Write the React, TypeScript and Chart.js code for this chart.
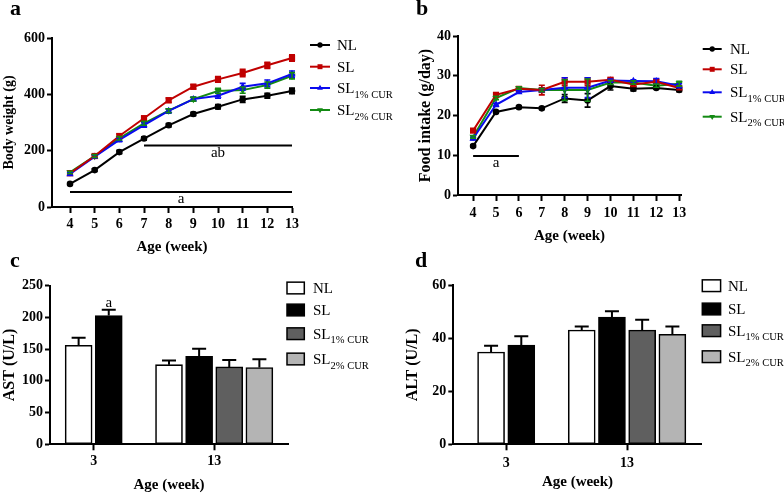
import React, { useEffect, useRef } from 'react';
import { Chart, registerables } from 'chart.js';
Chart.register(...registerables);

const FONT = "'Liberation Serif', 'Times New Roman', serif";

// ---------- shared series info ----------
const seriesNames = ['NL', 'SL', 'SL', 'SL'];
const seriesSubs = ['', '', '1% CUR', '2% CUR'];
const lineColors = ['#000000', '#c00000', '#0a0aee', '#138a13'];
const pointStyles = ['circle', 'rect', 'triangle', 'triangle'];
const pointRotations = [0, 0, 0, 180];
const pointRadii = [3.3, 4.4, 4.2, 4.2];
const barFills = ['#ffffff', '#000000', '#5f5f5f', '#b4b4b4'];

// ---------- panel a: body weight ----------
const weeks = [4, 5, 6, 7, 8, 9, 10, 11, 12, 13];
const bwNL = [82, 131, 195, 243, 290, 330, 356, 382, 395, 412];
const bwSL = [120, 181, 252, 315, 379, 427, 453, 476, 503, 529];
const bwSL1 = [117, 179, 238, 291, 341, 383, 395, 427, 439, 472];
const bwSL2 = [123, 181, 244, 297, 342, 383, 412, 415, 433, 466];
const bwNLErr = [4, 5, 6, 6, 6, 6, 8, 11, 9, 10];
const bwSLErr = [4, 5, 7, 8, 8, 8, 10, 13, 11, 11];
const bwSL1Err = [4, 5, 6, 8, 8, 7, 9, 12, 12, 11];
const bwSL2Err = [4, 5, 6, 7, 7, 7, 9, 11, 11, 11];
const bwTicks = [0, 200, 400, 600];
// significance lines: [from week, to week, y value, label]
const bwSigFrom = [7, 4];
const bwSigTo = [13, 13];
const bwSigY = [218, 53];
const bwSigLabel = ['ab', 'a'];

// ---------- panel b: food intake ----------
const fiNL = [12.3, 20.9, 22.1, 21.8, 24.3, 23.8, 27.4, 26.7, 26.9, 26.4];
const fiSL = [16.2, 25.2, 26.7, 26.4, 28.5, 28.5, 29.0, 27.8, 28.5, 26.9];
const fiSL1 = [14.2, 22.7, 25.9, 26.4, 27.0, 27.0, 28.8, 28.7, 28.6, 27.5];
const fiSL2 = [14.6, 24.4, 26.9, 26.4, 26.4, 26.4, 28.3, 28.3, 27.5, 28.0];
const fiNLErr = [0.3, 0.3, 0.3, 0.3, 1.0, 1.7, 1.0, 0.5, 0.3, 0.4];
const fiSLErr = [0.3, 0.5, 0.4, 1.2, 1.0, 1.0, 0.4, 0.5, 0.6, 0.4];
const fiSL1Err = [0.3, 0.4, 0.3, 0.4, 2.5, 2.5, 0.4, 0.3, 0.7, 0.5];
const fiSL2Err = [0.3, 0.4, 0.3, 0.4, 2.6, 2.8, 0.5, 0.4, 0.4, 0.6];
const fiTicks = [0, 10, 20, 30, 40];
const fiSigFrom = [4];
const fiSigTo = [6];
const fiSigY = [9.8];
const fiSigLabel = ['a'];

// ---------- panels c, d: AST / ALT ----------
const ageCats = ['3', '13'];
const astNL = [156, 125.5];
const astSL = [203, 138.7];
const astSL1 = [null, 122];
const astSL2 = [null, 121];
const astNLErr = [12, 6.5];
const astSLErr = [9, 12];
const astSL1Err = [null, 11];
const astSL2Err = [null, 13];
const astTicks = [0, 50, 100, 150, 200, 250];
const altNL = [34.8, 43.1];
const altSL = [37.4, 48.0];
const altSL1 = [null, 43.1];
const altSL2 = [null, 41.5];
const altNLErr = [2.4, 1.4];
const altSLErr = [3.4, 2.2];
const altSL1Err = [null, 3.9];
const altSL2Err = [null, 3.0];
const altTicks = [0, 20, 40, 60];
// "a" mark above SL bar at age 3 in AST
const astMarkCat = [0];
const astMarkSeries = [1];
const astMarkLabel = ['a'];

const GROUP = 4; // slots between category centres

// ---------- helpers ----------
function drawMarker(ctx: CanvasRenderingContext2D, style: string, x: number, y: number, r: number, rot: number) {
  ctx.beginPath();
  if (style === 'circle') {
    ctx.arc(x, y, r, 0, Math.PI * 2);
  } else if (style === 'rect') {
    const s = r * Math.SQRT1_2;
    ctx.rect(x - s, y - s, 2 * s, 2 * s);
  } else {
    let a = (rot * Math.PI) / 180;
    ctx.moveTo(x + Math.sin(a) * r, y - Math.cos(a) * r);
    a += (2 * Math.PI) / 3;
    ctx.lineTo(x + Math.sin(a) * r, y - Math.cos(a) * r);
    a += (2 * Math.PI) / 3;
    ctx.lineTo(x + Math.sin(a) * r, y - Math.cos(a) * r);
    ctx.closePath();
  }
  ctx.fill();
}

function drawLabelText(ctx: CanvasRenderingContext2D, name: string, sub: string, x: number, y: number) {
  ctx.fillStyle = '#000';
  ctx.textAlign = 'left';
  ctx.textBaseline = 'alphabetic';
  ctx.font = `15px ${FONT}`;
  ctx.fillText(name, x, y + 5);
  if (sub) {
    const w = ctx.measureText(name).width;
    ctx.font = `10.5px ${FONT}`;
    ctx.fillText(sub, x + w, y + 9.5);
  }
}

function panelLetterPlugin(letter: string, x: number, y: number) {
  return {
    id: 'panelLetter',
    afterDraw(chart: any) {
      const ctx = chart.ctx;
      ctx.save();
      ctx.fillStyle = '#000';
      ctx.font = `bold 22px ${FONT}`;
      ctx.textAlign = 'left';
      ctx.textBaseline = 'alphabetic';
      ctx.fillText(letter, x, y);
      ctx.restore();
    },
  };
}

function lineLegendPlugin(x0: number, x1: number, tx: number, ys: number[]) {
  return {
    id: 'lineLegend',
    afterDraw(chart: any) {
      const ctx = chart.ctx;
      ctx.save();
      ys.forEach((y, i) => {
        ctx.strokeStyle = lineColors[i];
        ctx.fillStyle = lineColors[i];
        ctx.lineWidth = 2;
        ctx.beginPath();
        ctx.moveTo(x0, y);
        ctx.lineTo(x1, y);
        ctx.stroke();
        drawMarker(ctx, pointStyles[i], (x0 + x1) / 2, y, pointRadii[i] * 0.8, pointRotations[i]);
        drawLabelText(ctx, seriesNames[i], seriesSubs[i], tx, y);
      });
      ctx.restore();
    },
  };
}

function boxLegendPlugin(x0: number, w: number, h: number, tx: number, ys: number[]) {
  return {
    id: 'boxLegend',
    afterDraw(chart: any) {
      const ctx = chart.ctx;
      ctx.save();
      ys.forEach((y, i) => {
        ctx.fillStyle = barFills[i];
        ctx.fillRect(x0, y - h / 2, w, h);
        ctx.strokeStyle = '#000';
        ctx.lineWidth = 1.5;
        ctx.strokeRect(x0, y - h / 2, w, h);
        drawLabelText(ctx, seriesNames[i], seriesSubs[i], tx, y);
      });
      ctx.restore();
    },
  };
}

function lineErrPlugin(errs: number[][]) {
  return {
    id: 'lineErr',
    afterDatasetsDraw(chart: any) {
      const ctx = chart.ctx;
      const ys = chart.scales.y;
      ctx.save();
      chart.data.datasets.forEach((ds: any, i: number) => {
        const meta = chart.getDatasetMeta(i);
        ctx.strokeStyle = lineColors[i];
        ctx.lineWidth = 1.6;
        meta.data.forEach((el: any, j: number) => {
          const v = ds.data[j].y;
          const e = errs[i][j];
          const top = ys.getPixelForValue(v + e);
          const bot = ys.getPixelForValue(v - e);
          ctx.beginPath();
          ctx.moveTo(el.x, top);
          ctx.lineTo(el.x, bot);
          ctx.moveTo(el.x - 3, top);
          ctx.lineTo(el.x + 3, top);
          ctx.moveTo(el.x - 3, bot);
          ctx.lineTo(el.x + 3, bot);
          ctx.stroke();
        });
      });
      ctx.restore();
    },
  };
}

function sigLinePlugin(from: number[], to: number[], yv: number[], labels: string[]) {
  return {
    id: 'sigLine',
    afterDraw(chart: any) {
      const ctx = chart.ctx;
      const xs = chart.scales.x;
      const ys = chart.scales.y;
      ctx.save();
      ctx.strokeStyle = '#000';
      ctx.fillStyle = '#000';
      ctx.lineWidth = 2;
      ctx.font = `15px ${FONT}`;
      ctx.textAlign = 'center';
      ctx.textBaseline = 'alphabetic';
      from.forEach((f, i) => {
        const x0 = xs.getPixelForValue(f);
        const x1 = xs.getPixelForValue(to[i]);
        const y = ys.getPixelForValue(yv[i]);
        ctx.beginPath();
        ctx.moveTo(x0, y);
        ctx.lineTo(x1, y);
        ctx.stroke();
        ctx.fillText(labels[i], (x0 + x1) / 2, y + 11);
      });
      ctx.restore();
    },
  };
}

function barErrPlugin(errs: (number | null)[][], markCat: number[], markSeries: number[], markLabel: string[]) {
  return {
    id: 'barErr',
    afterDatasetsDraw(chart: any) {
      const ctx = chart.ctx;
      const ys = chart.scales.y;
      ctx.save();
      ctx.strokeStyle = '#000';
      ctx.lineWidth = 2;
      chart.data.datasets.forEach((ds: any, i: number) => {
        const meta = chart.getDatasetMeta(i);
        meta.data.forEach((el: any, j: number) => {
          const pt = ds.data[j];
          const e = errs[i][pt.cat];
          if (e == null) return;
          const top = ys.getPixelForValue(pt.y + e);
          const base = ys.getPixelForValue(pt.y);
          ctx.beginPath();
          ctx.moveTo(el.x, base);
          ctx.lineTo(el.x, top);
          ctx.moveTo(el.x - 7, top);
          ctx.lineTo(el.x + 7, top);
          ctx.stroke();
          markCat.forEach((mc, k) => {
            if (mc === pt.cat && markSeries[k] === i) {
              ctx.fillStyle = '#000';
              ctx.font = `15px ${FONT}`;
              ctx.textAlign = 'center';
              ctx.textBaseline = 'alphabetic';
              ctx.fillText(markLabel[k], el.x, top - 3);
            }
          });
        });
      });
      ctx.restore();
    },
  };
}

const tickFont = { family: FONT, size: 14, weight: 'bold' as const };

function axisCommon() {
  return {
    grid: { drawOnChartArea: false, color: '#000', tickColor: '#000', tickWidth: 2, offset: false },
    border: { display: true, color: '#000', width: 2 },
  };
}

function lineConfig(
  series: number[][],
  cw: number,
  ch: number,
  plot: { l: number; t: number; r: number; b: number },
  xMin: number,
  xMax: number,
  yTicks: number[],
  xTitle: { size: number; pad: number },
  yTitle: { text: string; size: number; pad: number },
  tickPadX: number,
  plugins: any[]
) {
  return {
    type: 'line',
    data: {
      datasets: series.map((vals, i) => ({
        label: seriesNames[i] + seriesSubs[i],
        data: weeks.map((w, j) => ({ x: w, y: vals[j] })),
        borderColor: lineColors[i],
        backgroundColor: lineColors[i],
        borderWidth: 2,
        pointStyle: pointStyles[i],
        pointRotation: pointRotations[i],
        pointRadius: pointRadii[i],
        pointBorderWidth: 0,
        tension: 0,
        clip: false,
      })),
    },
    options: {
      responsive: false,
      animation: false,
      events: [],
      layout: { padding: { left: 0, top: plot.t, right: cw - plot.r, bottom: 0 } },
      plugins: { legend: { display: false }, tooltip: { enabled: false } },
      scales: {
        x: {
          type: 'linear',
          min: xMin,
          max: xMax,
          offset: false,
          afterBuildTicks: (s: any) => {
            s.ticks = weeks.map((v) => ({ value: v }));
          },
          afterFit: (s: any) => {
            s.height = ch - plot.b;
          },
          ticks: { font: tickFont, color: '#000', padding: tickPadX, autoSkip: false, maxRotation: 0 },
          ...axisCommon(),
          grid: { ...axisCommon().grid, tickLength: 6 },
          title: {
            display: true,
            text: 'Age (week)',
            color: '#000',
            font: { family: FONT, size: xTitle.size, weight: 'bold' },
            padding: { top: 0, bottom: xTitle.pad },
          },
        },
        y: {
          min: yTicks[0],
          max: yTicks[yTicks.length - 1],
          afterBuildTicks: (s: any) => {
            s.ticks = yTicks.map((v) => ({ value: v }));
          },
          afterFit: (s: any) => {
            s.width = plot.l;
          },
          ticks: { font: tickFont, color: '#000', padding: 2 },
          ...axisCommon(),
          grid: { ...axisCommon().grid, tickLength: 5 },
          title: {
            display: true,
            text: yTitle.text,
            color: '#000',
            font: { family: FONT, size: yTitle.size, weight: 'bold' },
            padding: { top: yTitle.pad, bottom: 0 },
          },
        },
      },
    },
    plugins,
  };
}

function barConfig(
  series: (number | null)[][],
  cw: number,
  ch: number,
  plot: { l: number; t: number; r: number; b: number },
  xMin: number,
  xMax: number,
  yTicks: number[],
  xTitle: { size: number; pad: number },
  yTitle: { text: string; size: number; pad: number },
  tickPadX: number,
  plugins: any[]
) {
  // place each present bar in its category group, centred on the category
  const pts: any[][] = series.map(() => []);
  ageCats.forEach((_, ci) => {
    const present = series.map((s, si) => (s[ci] == null ? -1 : si)).filter((si) => si >= 0);
    present.forEach((si, k) => {
      pts[si].push({ x: ci * GROUP + (k - (present.length - 1) / 2), y: series[si][ci], cat: ci });
    });
  });
  return {
    type: 'bar',
    data: {
      datasets: series.map((_, i) => ({
        label: seriesNames[i] + seriesSubs[i],
        data: pts[i],
        backgroundColor: barFills[i],
        borderColor: '#000',
        borderWidth: 1.6,
        borderSkipped: false,
        barThickness: 27,
        grouped: false,
      })),
    },
    options: {
      responsive: false,
      animation: false,
      events: [],
      layout: { padding: { left: 0, top: plot.t, right: cw - plot.r, bottom: 0 } },
      plugins: { legend: { display: false }, tooltip: { enabled: false } },
      scales: {
        x: {
          type: 'linear',
          min: xMin,
          max: xMax,
          offset: false,
          afterBuildTicks: (s: any) => {
            s.ticks = ageCats.map((_, i) => ({ value: i * GROUP }));
          },
          afterFit: (s: any) => {
            s.height = ch - plot.b;
          },
          ticks: {
            font: tickFont,
            color: '#000',
            padding: tickPadX,
            autoSkip: false,
            maxRotation: 0,
            callback: (v: number) => ageCats[Math.round(v / GROUP)],
          },
          ...axisCommon(),
          grid: { ...axisCommon().grid, tickLength: 6 },
          title: {
            display: true,
            text: 'Age (week)',
            color: '#000',
            font: { family: FONT, size: xTitle.size, weight: 'bold' },
            padding: { top: 0, bottom: xTitle.pad },
          },
        },
        y: {
          min: yTicks[0],
          max: yTicks[yTicks.length - 1],
          afterBuildTicks: (s: any) => {
            s.ticks = yTicks.map((v) => ({ value: v }));
          },
          afterFit: (s: any) => {
            s.width = plot.l;
          },
          ticks: { font: tickFont, color: '#000', padding: 2 },
          ...axisCommon(),
          grid: { ...axisCommon().grid, tickLength: 5 },
          title: {
            display: true,
            text: yTitle.text,
            color: '#000',
            font: { family: FONT, size: yTitle.size, weight: 'bold' },
            padding: { top: yTitle.pad, bottom: 0 },
          },
        },
      },
    },
    plugins,
  };
}

const W = 400;
const H = 262;
const HB = 250;

export default function App() {
  const aRef = useRef<HTMLCanvasElement>(null);
  const bRef = useRef<HTMLCanvasElement>(null);
  const cRef = useRef<HTMLCanvasElement>(null);
  const dRef = useRef<HTMLCanvasElement>(null);

  useEffect(() => {
    const charts: Chart[] = [];
    charts.push(
      new Chart(
        aRef.current!,
        lineConfig(
          [bwNL, bwSL, bwSL1, bwSL2],
          W, H,
          { l: 52, t: 38, r: 292, b: 207 },
          3.27, 13,
          bwTicks,
          { size: 15, pad: 6 },
          { text: 'Body weight (g)', size: 14, pad: 0.6 },
          3,
          [
            lineErrPlugin([bwNLErr, bwSLErr, bwSL1Err, bwSL2Err]),
            sigLinePlugin(bwSigFrom, bwSigTo, bwSigY, bwSigLabel),
            lineLegendPlugin(310, 330, 337, [45, 66.7, 88, 110]),
            panelLetterPlugin('a', 10, 15),
          ]
        ) as any
      )
    );
    charts.push(
      new Chart(
        bRef.current!,
        lineConfig(
          [fiNL, fiSL, fiSL1, fiSL2],
          W, H,
          { l: 66, t: 36, r: 289, b: 195 },
          3.34, 13.08,
          fiTicks,
          { size: 15, pad: 17 },
          { text: 'Food intake (g/day)', size: 16, pad: 24 },
          3.5,
          [
            lineErrPlugin([fiNLErr, fiSLErr, fiSL1Err, fiSL2Err]),
            sigLinePlugin(fiSigFrom, fiSigTo, fiSigY, fiSigLabel),
            lineLegendPlugin(310.7, 329.7, 338, [49, 69.3, 92.3, 116.7]),
            panelLetterPlugin('b', 24, 15),
          ]
        ) as any
      )
    );
    charts.push(
      new Chart(
        cRef.current!,
        barConfig(
          [astNL, astSL, astSL1, astSL2],
          W, HB,
          { l: 50, t: 35.7, r: 288, b: 194.3 },
          -1.45, 6.45,
          astTicks,
          { size: 15, pad: 6 },
          { text: 'AST (U/L)', size: 16, pad: 0.4 },
          3,
          [
            barErrPlugin([astNLErr, astSLErr, astSL1Err, astSL2Err], astMarkCat, astMarkSeries, astMarkLabel),
            boxLegendPlugin(287, 17.3, 11.7, 313, [38, 60, 83.7, 109]),
            panelLetterPlugin('c', 10, 17),
          ]
        ) as any
      )
    );
    charts.push(
      new Chart(
        dRef.current!,
        barConfig(
          [altNL, altSL, altSL1, altSL2],
          W, HB,
          { l: 61.3, t: 35.3, r: 309.7, b: 194.3 },
          -1.75, 6.47,
          altTicks,
          { size: 15, pad: 9 },
          { text: 'ALT (U/L)', size: 16, pad: 11.4 },
          4.3,
          [
            barErrPlugin([altNLErr, altSLErr, altSL1Err, altSL2Err], [], [], []),
            boxLegendPlugin(310.3, 18.3, 11.7, 336, [35.7, 59, 80.7, 106.7]),
            panelLetterPlugin('d', 23, 17),
          ]
        ) as any
      )
    );
    return () => charts.forEach((c) => c.destroy());
  }, []);

  const cs = (left: number, top: number, h: number): React.CSSProperties => ({
    position: 'absolute',
    left,
    top,
    width: W,
    height: h,
  });

  return (
    <div style={{ position: 'fixed', left: 0, top: 0, width: 784, height: 493, background: '#fff', overflow: 'hidden' }}>
      <canvas ref={aRef} width={W} height={H} style={cs(0, 0, H)} />
      <canvas ref={bRef} width={W} height={H} style={cs(392, 0, H)} />
      <canvas ref={cRef} width={W} height={HB} style={cs(0, 250, HB)} />
      <canvas ref={dRef} width={W} height={HB} style={cs(392, 250, HB)} />
    </div>
  );
}
